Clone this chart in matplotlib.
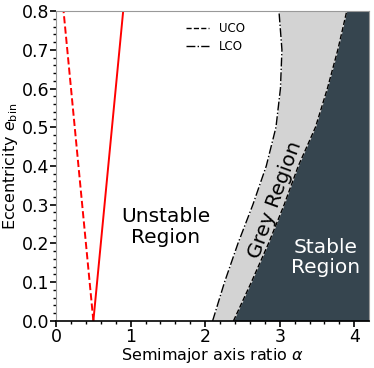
import matplotlib.pyplot as plt
import numpy as np

# eccentricity grid and the two orbit boundaries
ecc = [0.0, 0.1, 0.2, 0.3, 0.4, 0.5, 0.6, 0.7, 0.8]
lco = [2.10, 2.26, 2.44, 2.64, 2.82, 2.95, 3.01, 3.03, 2.99]
uco = [2.38, 2.62, 2.85, 3.06, 3.25, 3.48, 3.64, 3.78, 3.90]

# red lines: alpha at e = 0 and e = 0.8
red_ecc = [0.0, 0.8]
red_dashed = [0.5, 0.1]
red_solid = [0.5, 0.9]

x_max = 4.2

fig = plt.figure(figsize=(3.74, 3.68), dpi=100)
ax = fig.add_axes([0.150, 0.128, 0.837, 0.842])

ax.fill_betweenx(ecc, lco, uco, color="lightgray", lw=0)
ax.fill_betweenx(ecc, uco, x_max, color="#36454f", lw=0)
ax.plot(uco, ecc, "k--", lw=1, label="UCO")
ax.plot(lco, ecc, "k-.", lw=1, label="LCO")

ax.plot(red_dashed, red_ecc, "r--", lw=1.4)
ax.plot(red_solid, red_ecc, "r-", lw=1.4)

ax.text(1.47, 0.243, "Unstable\nRegion", fontsize=14.5, ha="center", va="center",
        linespacing=1.1)
ax.text(3.61, 0.164, "Stable\nRegion", fontsize=14.5, ha="center", va="center",
        color="white", linespacing=1.1)
ax.text(2.94, 0.312, "Grey Region", fontsize=14.5, ha="center", va="center",
        rotation=70)

ax.set_xlim(0, x_max)
ax.set_ylim(0, 0.8)
ax.set_xticks([0, 1, 2, 3, 4])
ax.set_xticklabels(["0", "1", "2", "3", "4"])
ax.set_xticks(np.arange(0, 4.2, 0.2), minor=True)
ax.set_yticks(np.arange(0, 0.81, 0.1))
ax.set_yticks(np.arange(0, 0.81, 0.02), minor=True)
ax.tick_params(which="major", length=4, width=1.2, labelsize=12.5, pad=1)
ax.tick_params(which="minor", length=2.5, width=1)

for side in ["top", "left", "right"]:
    ax.spines[side].set_color("#999999")
ax.spines["bottom"].set_linewidth(1.2)

ax.set_xlabel(r"Semimajor axis ratio $\alpha$", fontsize=11.5, labelpad=0)
ax.set_ylabel(r"Eccentricity $e_{\rm bin}$", fontsize=11.5, labelpad=1)

ax.legend(loc="upper left", bbox_to_anchor=(0.38, 1.0), frameon=False,
          fontsize=8.5, handlelength=2.0, labelspacing=0.45)

fig.savefig("out.png", dpi=100)
